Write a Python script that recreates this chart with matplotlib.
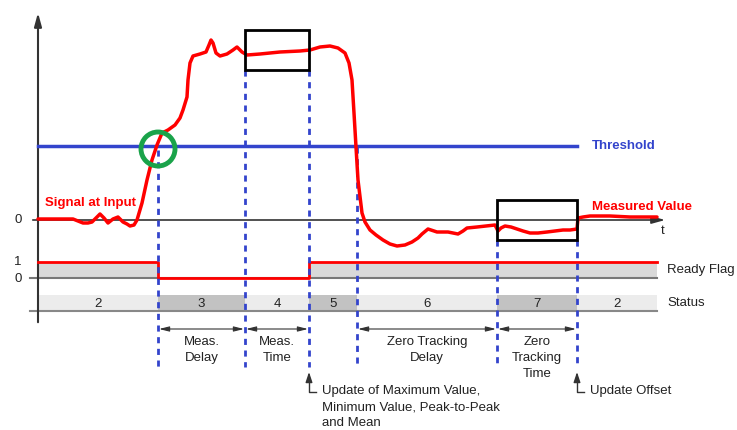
import matplotlib
matplotlib.use("Agg")
import matplotlib.pyplot as plt
from matplotlib.patches import Rectangle, Circle

plt.rcParams['font.family'] = ['Liberation Sans', 'DejaVu Sans']

# ---- data (diagram units: x = time position, y = screen level) ----
signal_x = [38, 63, 73, 78, 83, 88, 92, 96, 100, 104, 108, 113, 118, 123, 127, 130, 134,
            137, 142, 147, 152, 157, 162, 168, 175, 180, 183, 187, 188, 190, 193, 200,
            206, 209, 211, 213, 216, 220, 227, 233, 237, 242, 247, 260, 280, 300, 310,
            320, 330, 338, 345, 349, 352, 354, 356, 358, 362, 365, 370, 376, 383, 390,
            397, 405, 412, 418, 422, 428, 437, 448, 458, 463, 467, 477, 486, 495, 498,
            501, 505, 511, 517, 523, 530, 538, 547, 555, 563, 570, 577, 578, 583, 590,
            610, 630, 657]
signal_y = [219, 219, 219, 221, 223, 223, 222, 218, 214, 218, 223, 219, 217, 222, 224, 226, 225,
            220, 203, 180, 160, 145, 133, 130, 125, 118, 110, 97, 80, 63, 56, 54,
            52, 45, 40, 43, 53, 56, 54, 50, 47, 52, 55, 54, 52, 51, 50,
            47, 46, 48, 53, 63, 80, 113, 147, 180, 213, 222, 230, 235, 240, 244,
            246, 245, 242, 238, 234, 229, 232, 232, 234, 231, 228, 227, 226, 225, 231,
            228, 226, 227, 229, 231, 233, 233, 232, 231, 230, 230, 229, 218, 217, 216,
            216, 217, 217]

t_marks = [158, 245, 309, 357, 497, 577]
dash_top = [150, 70, 70, 147, 240, 240]

flag_x = [38, 158, 158, 309, 309, 657]
flag_v = [1, 1, 0, 0, 1, 1]

status_bounds = [38, 158, 245, 309, 357, 497, 577, 657]
status_labels = ['2', '3', '4', '5', '6', '7', '2']
status_dark = [False, True, False, True, False, True, False]

interval_labels = ['Meas.\nDelay', 'Meas.\nTime', None, 'Zero Tracking\nDelay', 'Zero\nTracking\nTime']

threshold_y = 146
zero_y = 220
flag_y1, flag_y0 = 262, 278
status_top, status_bot = 295, 311

fig = plt.figure(figsize=(7.37, 4.30), dpi=100)
ax = fig.add_axes([0, 0, 1, 1])
ax.set_xlim(0, 737)
ax.set_ylim(430, 0)
ax.axis('off')

blue = '#3344cc'
red = '#ff0000'
txtc = '#222222'
fs = 9.5
ls = 1.45

# status band
for i, lab in enumerate(status_labels):
    x0, x1 = status_bounds[i], status_bounds[i + 1]
    ax.add_patch(Rectangle((x0, status_top), x1 - x0, status_bot - status_top,
                           facecolor='#c2c2c2' if status_dark[i] else '#ececec',
                           edgecolor='none', zorder=1))
    ax.text((x0 + x1) / 2, (status_top + status_bot) / 2 + 1, lab, ha='center',
            va='center', fontsize=fs, color=txtc, zorder=3)
ax.plot([30, 657], [status_bot, status_bot], color='#888888', lw=1.5, zorder=2)

# ready flag
fy = [flag_y1 if v else flag_y0 for v in flag_v]
ax.fill_between(flag_x, fy, flag_y0, color='#d9d9d9', lw=0, zorder=1)
ax.plot([30, 657], [flag_y0, flag_y0], color='#777777', lw=1.5, zorder=2)
ax.plot(flag_x, fy, color=red, lw=2, zorder=4)

# axes
ax.annotate('', xy=(38, 10), xytext=(38, 325),
            arrowprops=dict(arrowstyle='-|>,head_length=0.8,head_width=0.22',
                            color='#333333', lw=1.5), zorder=3)
ax.annotate('', xy=(668, zero_y), xytext=(30, zero_y),
            arrowprops=dict(arrowstyle='-|>,head_length=0.8,head_width=0.22',
                            color='#333333', lw=1.2), zorder=3)
ax.text(663, 231, 't', fontsize=fs, ha='center', va='center', color=txtc)

# threshold
ax.plot([38, 577], [threshold_y, threshold_y], color=blue, lw=2.5, zorder=3)
ax.text(592, threshold_y, 'Threshold', color=blue, fontsize=fs, fontweight='bold',
        va='center', ha='left')

# dashed time marks
for x, top in zip(t_marks, dash_top):
    ax.plot([x, x], [top, 367], color=blue, lw=2, ls=(0, (2.2, 2.0)), zorder=5)

# signal
ax.plot(signal_x, signal_y, color=red, lw=2.5, solid_joinstyle='round',
        solid_capstyle='round', zorder=6)

# boxes
ax.add_patch(Rectangle((245, 30), 64, 40, fill=False, edgecolor='black', lw=2, zorder=7))
ax.add_patch(Rectangle((497, 200), 80, 40, fill=False, edgecolor='black', lw=2, zorder=7))

# green circle
ax.add_patch(Circle((158, 149), 17, fill=False, edgecolor='#1aa34a', lw=3.5, zorder=8))

# dimension arrows and labels
pairs = list(zip(t_marks[:-1], t_marks[1:]))
for (x0, x1), lab in zip(pairs, interval_labels):
    if lab is None:
        continue
    ax.annotate('', xy=(x0 + 1, 329), xytext=(x1 - 1, 329),
                arrowprops=dict(arrowstyle='<|-|>,head_length=0.6,head_width=0.15',
                                color='#333333', lw=0.8, shrinkA=0, shrinkB=0), zorder=6)
    ax.text((x0 + x1) / 2, 336, lab, ha='center', va='top', fontsize=fs,
            color=txtc, linespacing=ls)

# update arrows
for x, txt in [(309, 'Update of Maximum Value,\nMinimum Value, Peak-to-Peak\nand Mean'),
               (577, 'Update Offset')]:
    ax.plot([x, x, x + 7], [378, 392, 392], color='#333333', lw=1)
    ax.annotate('', xy=(x, 372), xytext=(x, 380),
                arrowprops=dict(arrowstyle='-|>,head_length=0.6,head_width=0.2',
                                color='#333333', lw=1, shrinkA=0, shrinkB=0))
    ax.text(x + 13, 385, txt, ha='left', va='top', fontsize=fs, color=txtc,
            linespacing=ls)

# labels
ax.text(45, 203, 'Signal at Input', color=red, fontsize=fs, fontweight='bold',
        ha='left', va='center')
ax.text(592, 207, 'Measured Value', color=red, fontsize=fs, fontweight='bold',
        ha='left', va='center')
ax.text(667, 270, 'Ready Flag', fontsize=fs, ha='left', va='center', color=txtc)
ax.text(667, 303, 'Status', fontsize=fs, ha='left', va='center', color=txtc)
ax.text(18, zero_y, '0', fontsize=fs, ha='center', va='center', color=txtc)
ax.text(18, flag_y1, '1', fontsize=fs, ha='center', va='center', color=txtc)
ax.text(18, flag_y0 + 1, '0', fontsize=fs, ha='center', va='center', color=txtc)

fig.savefig('out.png', dpi=100)
